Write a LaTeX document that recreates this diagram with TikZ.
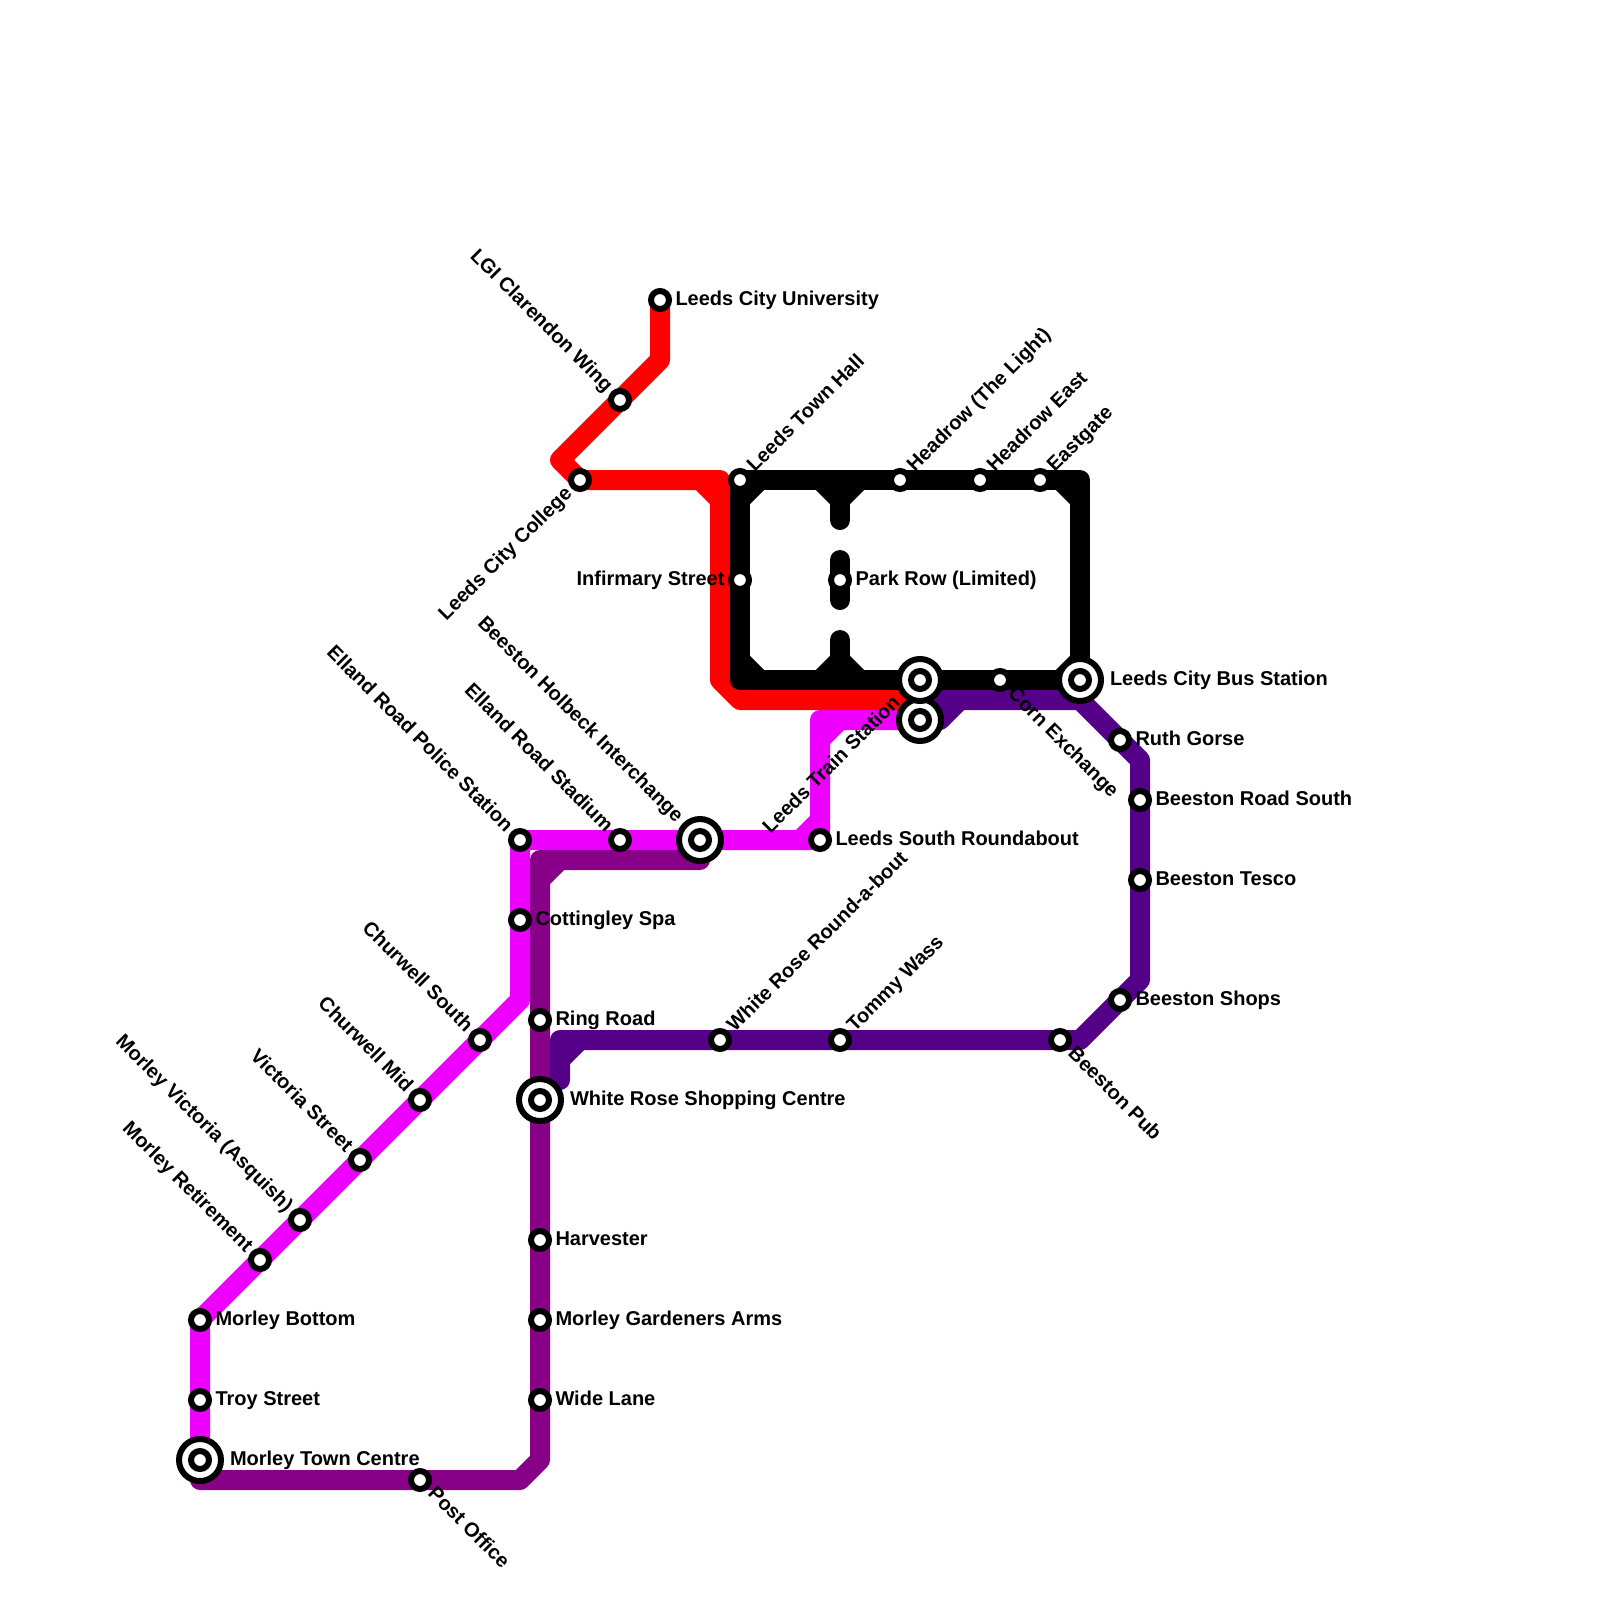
\documentclass[tikz,border=0pt]{standalone}
\usepackage{fontspec}
\setmainfont{Liberation Sans}
\usetikzlibrary{backgrounds}
\definecolor{linemagenta}{HTML}{EE00FF}
\definecolor{linepurple}{HTML}{880088}
\definecolor{lineindigo}{HTML}{550088}

\begin{document}
\begin{tikzpicture}[x=0.5pt, y=-0.5pt,
    track/.style={line width=10pt, line cap=round, line join=round},
    stn/.style={circle, draw=black, fill=white, line width=3pt, inner sep=0pt, outer sep=0pt, minimum size=9pt},
    hub/.style={stn, minimum size=21pt},
    lbl/.style={font=\bfseries\fontsize{10}{10}\selectfont, inner sep=0pt, outer sep=0pt, text=black},
    lble/.style={lbl, anchor=base west},
    lblw/.style={lbl, anchor=base east},
    lblne/.style={lbl, anchor=base west, rotate=45},
    lblse/.style={lbl, anchor=base west, rotate=-45},
    lblnw/.style={lbl, anchor=base east, rotate=-45},
    lblsw/.style={lbl, anchor=base east, rotate=45}]
  \useasboundingbox (0,0) rectangle (1600,1600);

  % Bends
  \coordinate (r1) at (660,360);
  \coordinate (r2) at (560,460);
  \coordinate (r3) at (720,480);
  \coordinate (r4) at (720,680);
  \coordinate (r5) at (740,700);
  \coordinate (r6) at (920,700);
  \coordinate (r7) at (700,480);
  \coordinate (r8) at (720,500);
  \coordinate (k1) at (1080,480);
  \coordinate (k2) at (740,680);
  \coordinate (k3) at (840,480);
  \coordinate (k4) at (840,520);
  \coordinate (k5) at (840,500);
  \coordinate (k6) at (820,480);
  \coordinate (k7) at (860,480);
  \coordinate (k8) at (840,560);
  \coordinate (k9) at (840,600);
  \coordinate (k10) at (840,640);
  \coordinate (k11) at (840,680);
  \coordinate (k12) at (840,660);
  \coordinate (k13) at (820,680);
  \coordinate (k14) at (860,680);
  \coordinate (k15) at (740,500);
  \coordinate (k16) at (760,480);
  \coordinate (k17) at (740,660);
  \coordinate (k18) at (760,680);
  \coordinate (k19) at (1060,480);
  \coordinate (k20) at (1080,500);
  \coordinate (k21) at (1060,680);
  \coordinate (k22) at (1080,660);
  \coordinate (i1) at (920,700);
  \coordinate (i2) at (1080,700);
  \coordinate (i3) at (1140,760);
  \coordinate (i4) at (1140,980);
  \coordinate (i5) at (1080,1040);
  \coordinate (i6) at (560,1040);
  \coordinate (i7) at (560,1080);
  \coordinate (i8) at (560,1060);
  \coordinate (i9) at (580,1040);
  \coordinate (i10) at (940,720);
  \coordinate (i11) at (960,700);
  \coordinate (m1) at (820,720);
  \coordinate (m2) at (820,740);
  \coordinate (m3) at (840,720);
  \coordinate (m4) at (800,840);
  \coordinate (m5) at (820,820);
  \coordinate (m6) at (520,1000);
  \coordinate (p1) at (700,860);
  \coordinate (p2) at (540,860);
  \coordinate (p3) at (540,1460);
  \coordinate (p4) at (520,1480);
  \coordinate (p5) at (200,1480);
  \coordinate (p6) at (540,880);
  \coordinate (p7) at (560,860);

  % Stations and their labels
  \node[stn] (uni) at (660,300) {};
  \node[lble] (uniT) at (675.5,305.5) {Leeds City University};
  \node[stn] (lgi) at (620,400) {};
  \node[lblnw] (lgiT) at (605.1,392.9) {LGI Clarendon Wing};
  \node[stn] (college) at (580,480) {};
  \node[lblsw] (collegeT) at (572.9,494.9) {Leeds City College};
  \node[stn] (townhall) at (740,480) {};
  \node[lblne] (townhallT) at (754.9,472.9) {Leeds Town Hall};
  \node[stn] (light) at (900,480) {};
  \node[lblne] (lightT) at (914.9,472.9) {Headrow (The Light)};
  \node[stn] (heast) at (980,480) {};
  \node[lblne] (heastT) at (994.9,472.9) {Headrow East};
  \node[stn] (eastgate) at (1040,480) {};
  \node[lblne] (eastgateT) at (1054.9,472.9) {Eastgate};
  \node[stn] (infirmary) at (740,580) {};
  \node[lblw] (infirmaryT) at (724.5,585.5) {Infirmary Street};
  \node[stn] (parkrow) at (840,580) {};
  \node[lble] (parkrowT) at (855.5,585.5) {Park Row (Limited)};

  \node[hub] (trainO) at (920,720) {};
  \node[stn] (train) at (920,720) {};
  \node[lblsw] (trainT) at (901,704) {Leeds Train Station};
  \node[hub] (upperO) at (920,680) {};
  \node[stn] (upper) at (920,680) {};
  \node[stn] (corn) at (1000,680) {};
  \node[lblse] (cornT) at (1007.1,694.9) {Corn Exchange};
  \node[hub] (busO) at (1080,680) {};
  \node[stn] (bus) at (1080,680) {};
  \node[lble] (busT) at (1110,685.5) {Leeds City Bus Station};

  \node[stn] (ruth) at (1120,740) {};
  \node[lble] (ruthT) at (1135.5,745.5) {Ruth Gorse};
  \node[stn] (roadsouth) at (1140,800) {};
  \node[lble] (roadsouthT) at (1155.5,805.5) {Beeston Road South};
  \node[stn] (tesco) at (1140,880) {};
  \node[lble] (tescoT) at (1155.5,885.5) {Beeston Tesco};
  \node[stn] (shops) at (1120,1000) {};
  \node[lble] (shopsT) at (1135.5,1005.5) {Beeston Shops};
  \node[stn] (pub) at (1060,1040) {};
  \node[lblse] (pubT) at (1067.1,1054.9) {Beeston Pub};
  \node[stn] (tommy) at (840,1040) {};
  \node[lblne] (tommyT) at (854.9,1032.9) {Tommy Wass};
  \node[stn] (bout) at (720,1040) {};
  \node[lblne] (boutT) at (734.9,1032.9) {White Rose Round-a-bout};

  \node[stn] (roundabout) at (820,840) {};
  \node[lble] (roundaboutT) at (835.5,845.5) {Leeds South Roundabout};
  \node[hub] (holbeckO) at (700,840) {};
  \node[stn] (holbeck) at (700,840) {};
  \node[lblnw] (holbeckT) at (675.6,823.4) {Beeston Holbeck Interchange};
  \node[stn] (stadium) at (620,840) {};
  \node[lblnw] (stadiumT) at (605.1,832.9) {Elland Road Stadium};
  \node[stn] (police) at (520,840) {};
  \node[lblnw] (policeT) at (505.1,832.9) {Elland Road Police Station};
  \node[stn] (cottingley) at (520,920) {};
  \node[lble] (cottingleyT) at (535.5,925.5) {Cottingley Spa};
  \node[stn] (csouth) at (480,1040) {};
  \node[lblnw] (csouthT) at (465.1,1032.9) {Churwell South};
  \node[stn] (cmid) at (420,1100) {};
  \node[lblnw] (cmidT) at (405.1,1092.9) {Churwell Mid};
  \node[stn] (victoria) at (360,1160) {};
  \node[lblnw] (victoriaT) at (345.1,1152.9) {Victoria Street};
  \node[stn] (asquish) at (300,1220) {};
  \node[lblnw] (asquishT) at (285.1,1212.9) {Morley Victoria (Asquish)};
  \node[stn] (retirement) at (260,1260) {};
  \node[lblnw] (retirementT) at (245.1,1252.9) {Morley Retirement};
  \node[stn] (bottom) at (200,1320) {};
  \node[lble] (bottomT) at (215.5,1325.5) {Morley Bottom};
  \node[stn] (troy) at (200,1400) {};
  \node[lble] (troyT) at (215.5,1405.5) {Troy Street};
  \node[hub] (townO) at (200,1460) {};
  \node[stn] (town) at (200,1460) {};
  \node[lble] (townT) at (230,1465.5) {Morley Town Centre};

  \node[stn] (postoffice) at (420,1480) {};
  \node[lblse] (postofficeT) at (427.1,1494.9) {Post Office};
  \node[stn] (widelane) at (540,1400) {};
  \node[lble] (widelaneT) at (555.5,1405.5) {Wide Lane};
  \node[stn] (gardeners) at (540,1320) {};
  \node[lble] (gardenersT) at (555.5,1325.5) {Morley Gardeners Arms};
  \node[stn] (harvester) at (540,1240) {};
  \node[lble] (harvesterT) at (555.5,1245.5) {Harvester};
  \node[hub] (shoppingO) at (540,1100) {};
  \node[stn] (shopping) at (540,1100) {};
  \node[lble] (shoppingT) at (570,1105.5) {White Rose Shopping Centre};
  \node[stn] (ringroad) at (540,1020) {};
  \node[lble] (ringroadT) at (555.5,1025.5) {Ring Road};

  \begin{scope}[on background layer]
    % Magenta line
    \draw[track, linemagenta] (train.center) -- (m1) -- (roundabout.center) -- (police.center)
      -- (m6) -- (bottom.center) -- (town.center);
    \draw[track, linemagenta] (m2) -- (m3);
    \draw[track, linemagenta] (m4) -- (m5);

    % Purple line
    \draw[track, linepurple] (p1) -- (p2) -- (p3) -- (p4) -- (p5) -- (town.center);
    \draw[track, linepurple] (p6) -- (p7);

    % Indigo line
    \draw[track, lineindigo] (i1) -- (i2) -- (i3) -- (i4) -- (i5) -- (i6) -- (i7);
    \draw[track, lineindigo] (i8) -- (i9);
    \draw[track, lineindigo] (train.center) -- (i10) -- (i11);

    % Red line
    \draw[track, red] (uni.center) -- (r1) -- (r2) -- (college.center) -- (r3) -- (r4) -- (r5) -- (r6);
    \draw[track, red] (r7) -- (r8);

    % Black loop
    \draw[track, black] (townhall.center) -- (k1) -- (bus.center) -- (k2) -- cycle;
    \draw[track, black] (k3) -- (k4);
    \draw[track, black] (k6) -- (k5) -- (k7);
    \draw[track, black] (k8) -- (k9);
    \draw[track, black] (k10) -- (k11);
    \draw[track, black] (k13) -- (k12) -- (k14);
    \draw[track, black] (k15) -- (k16);
    \draw[track, black] (k17) -- (k18);
    \draw[track, black] (k19) -- (k20);
    \draw[track, black] (k21) -- (k22);
  \end{scope}
\end{tikzpicture}
\end{document}
